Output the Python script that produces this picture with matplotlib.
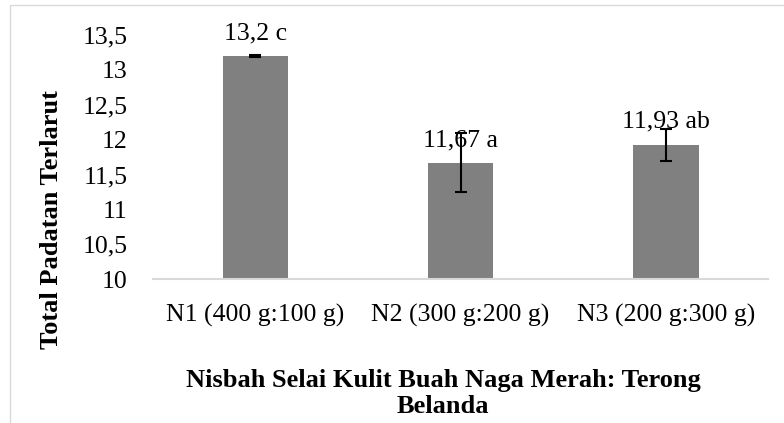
import matplotlib.pyplot as plt
from matplotlib.patches import Rectangle

# datos
perlakuan = ["N1 (400 g:100 g)", "N2 (300 g:200 g)", "N3 (200 g:300 g)"]
nilai = [13.2, 11.67, 11.93]
galat = [0.01, 0.42, 0.23]
label_nilai = ["13,2 c", "11,67 a", "11,93 ab"]
yticks = [10, 10.5, 11, 11.5, 12, 12.5, 13, 13.5]
ytick_labels = ["10", "10,5", "11", "11,5", "12", "12,5", "13", "13,5"]

plt.rcParams['font.family'] = ['Liberation Serif', 'DejaVu Serif']

fig = plt.figure(figsize=(7.84, 4.23), dpi=100)
ax = fig.add_axes([0.195, 0.340, 0.785, 0.577])

x = range(len(perlakuan))
ax.bar(x, nilai, width=0.32, color='#808080', zorder=2)
ax.errorbar(x, nilai, yerr=galat, fmt='none', ecolor='black', elinewidth=1.5,
            capsize=4.3, capthick=1.5, zorder=3)

for i, (v, t) in enumerate(zip(nilai, label_nilai)):
    ax.annotate(t, (i, v), xytext=(0, 12), textcoords='offset points',
                ha='center', va='baseline', fontsize=18.5)

ax.set_xlim(-0.5, 2.5)
ax.set_ylim(10, 13.5)
ax.set_yticks(yticks)
ax.set_yticklabels(ytick_labels)
ax.set_xticks(list(x))
ax.set_xticklabels(perlakuan)
ax.tick_params(axis='y', length=0, pad=18, labelsize=18.5)
ax.tick_params(axis='x', length=0, pad=18, labelsize=18.5)

for s in ['top', 'right', 'left']:
    ax.spines[s].set_visible(False)
ax.spines['bottom'].set_color('#d9d9d9')
ax.spines['bottom'].set_linewidth(1.5)

# títulos de ejes
fig.text(52 / 784, 1 - 220 / 423, 'Total Padatan Terlarut', rotation=90,
         ha='center', va='center', fontsize=19, fontweight='bold')
fig.text(0.565, 1 - 369 / 423, 'Nisbah Selai Kulit Buah Naga Merah: Terong\nBelanda',
         ha='center', va='top', fontsize=19, fontweight='bold', linespacing=1.15)

# borde del gráfico
fig.patches.append(Rectangle((10 / 784, -0.1), 1.1, 1.1 - 5 / 423, transform=fig.transFigure,
                             fill=False, edgecolor='#d9d9d9', linewidth=1.0))

fig.savefig('out.png', dpi=100)
